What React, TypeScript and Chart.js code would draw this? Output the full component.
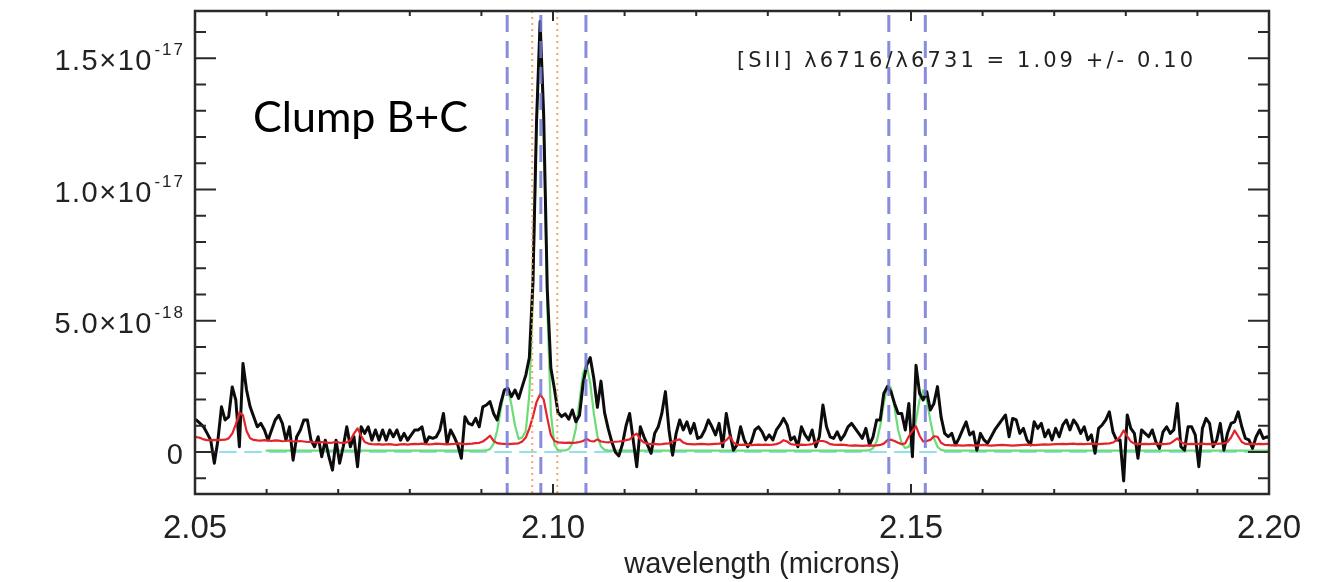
import React, { useEffect, useRef } from 'react';
import { Chart, registerables } from 'chart.js';

Chart.register(...registerables);

// Flux values are in units of 1e-18; wavelength in microns.
const WAVE_START = 2.0497;
const WAVE_STEP = 0.0005;

const SPECTRUM_FLUX = [
  1.20, 1.22, 1.09, 0.96, 0.71, 0.45, -0.43, 0.45, 1.72, 1.22,
  1.34, 2.48, 1.98, 0.20, 3.37, 2.36, 1.72, 1.34, 0.96, 1.09,
  0.84, 0.45, 0.84, 1.22, 1.40, 1.09, 0.45, 0.96, -0.31, 0.58,
  0.83, 1.22, 1.22, 0.45, 0.20, 0.58, -0.18, 0.45, -0.18, -0.69,
  0.45, -0.43, 0.20, 0.96, 0.20, 0.58, -0.56, 0.96, 0.71, 0.96,
  0.45, 0.84, 0.45, 0.84, 0.45, 0.84, 0.58, 0.84, 0.45, 0.71,
  0.45, 0.65, 0.84, 0.84, 0.96, 0.33, 0.58, 0.52, 0.58, 0.84,
  1.47, 0.33, 0.84, 0.58, 0.27, -0.24, 1.34, 1.09, 1.03, 1.28,
  0.96, 1.72, 1.79, 1.92, 1.47, 1.22, 1.85, 2.36, 2.42, 2.11,
  2.36, 2.04, 2.49, 2.93, 3.60, 6.50, 12.60, 16.40, 12.80, 6.20,
  3.20, 2.40, 1.50, 1.35, 1.45, 1.25, 1.60, 1.15, 1.40, 2.60,
  3.30, 3.60, 2.80, 1.70, 2.70, 1.50, 0.90, 0.40, 0.00, -0.15,
  0.30, 1.00, 1.47, 0.46, -0.56, 0.96, 0.58, 0.27, -0.05, 0.71,
  0.96, 1.47, 2.30, 0.84, -0.12, 0.71, 1.22, 0.84, 1.15, 0.71,
  1.09, 0.52, 0.58, 0.84, 1.22, 0.96, 0.65, 1.09, 0.20, 1.47,
  0.71, 0.07, 0.27, 0.96, 0.46, 0.20, 0.39, 0.84, 0.96, 0.77,
  0.46, 0.65, 0.46, 0.84, 1.03, 1.28, 1.03, 0.46, 0.58, 0.20,
  0.96, 0.65, 0.46, 0.84, 0.20, 0.58, 1.79, 0.96, 0.58, 0.52,
  0.77, 0.46, 0.65, 0.96, 1.09, 0.90, 0.71, 0.52, 0.90, 0.27,
  0.58, 1.22, 1.22, 2.23, 2.49, 2.30, 1.85, 1.47, 1.47, 0.84,
  1.85, -0.18, 3.30, 2.23, 1.98, 2.30, 1.60, 1.85, 2.49, 1.34,
  0.71, 0.58, 0.71, 0.27, 0.52, 0.84, 1.15, 0.65, 0.77, 0.07,
  0.71, 0.46, 0.33, 0.58, 0.84, 1.03, 1.22, 1.41, 0.58, 1.28,
  1.22, 0.71, 0.90, 0.46, 0.27, 1.15, 0.90, 1.09, 0.58, 0.84,
  0.46, 0.90, 0.58, 1.03, 1.22, 0.84, 1.22, 1.03, 0.71, 0.96,
  0.46, 0.65, -0.05, 0.90, 1.03, 1.22, 1.53, 0.77, 0.46, 0.46,
  -1.10, 1.41, 0.90, 0.71, -0.24, 0.84, 0.71, 0.58, 0.84, 0.39,
  0.14, 0.77, 0.96, 0.71, 0.84, 1.85, 0.20, 0.07, 0.96, 0.96,
  0.65, -0.56, 0.90, 1.28, 1.09, 0.20, 0.46, 1.09, 0.07, 0.71,
  1.09, 1.15, 1.53, 0.96, 0.52, 0.46, 0.14, 0.58, 0.84, 0.52,
  0.58, 0.50,
];

const NOISE_FLUX = [
  0.58, 0.57, 0.54, 0.48, 0.45, 0.44, 0.46, 0.45, 0.46, 0.47,
  0.52, 0.70, 1.05, 1.50, 1.40, 0.80, 0.52, 0.46, 0.44, 0.43,
  0.45, 0.44, 0.42, 0.44, 0.43, 0.41, 0.42, 0.44, 0.40, 0.41,
  0.42, 0.40, 0.38, 0.39, 0.37, 0.36, 0.38, 0.37, 0.35, 0.36,
  0.38, 0.36, 0.35, 0.37, 0.45, 0.70, 0.90, 0.62, 0.38, 0.32,
  0.30, 0.29, 0.30, 0.28, 0.29, 0.30, 0.28, 0.27, 0.29, 0.30,
  0.28, 0.30, 0.31, 0.30, 0.32, 0.30, 0.29, 0.30, 0.32, 0.31,
  0.30, 0.29, 0.30, 0.31, 0.33, 0.32, 0.30, 0.31, 0.32, 0.34,
  0.35, 0.40, 0.50, 0.62, 0.42, 0.34, 0.32, 0.31, 0.30, 0.31,
  0.32, 0.33, 0.40, 0.55, 0.90, 1.35, 1.90, 2.20, 2.00, 1.30,
  0.65, 0.42, 0.37, 0.36, 0.35, 0.36, 0.35, 0.36, 0.38, 0.42,
  0.50, 0.42, 0.40, 0.48, 0.40, 0.38, 0.37, 0.38, 0.39, 0.40,
  0.42, 0.45, 0.48, 0.62, 0.70, 0.48, 0.36, 0.32, 0.30, 0.31,
  0.29, 0.30, 0.32, 0.33, 0.40, 0.45, 0.48, 0.36, 0.31, 0.30,
  0.29, 0.30, 0.31, 0.30, 0.29, 0.30, 0.31, 0.32, 0.35, 0.45,
  0.60, 0.36, 0.28, 0.27, 0.28, 0.27, 0.26, 0.27, 0.28, 0.27,
  0.28, 0.27, 0.28, 0.30, 0.35, 0.45, 0.40, 0.30, 0.28, 0.27,
  0.28, 0.27, 0.28, 0.30, 0.38, 0.42, 0.42, 0.38, 0.30, 0.28,
  0.27, 0.28, 0.27, 0.25, 0.24, 0.25, 0.24, 0.23, 0.24, 0.25,
  0.24, 0.25, 0.27, 0.32, 0.45, 0.47, 0.42, 0.35, 0.30, 0.33,
  0.60, 0.80, 0.98, 0.62, 0.40, 0.42, 0.46, 0.60, 0.58, 0.35,
  0.27, 0.26, 0.25, 0.26, 0.25, 0.24, 0.25, 0.26, 0.25, 0.24,
  0.26, 0.27, 0.25, 0.24, 0.25, 0.26, 0.27, 0.26, 0.25, 0.24,
  0.25, 0.26, 0.27, 0.28, 0.27, 0.26, 0.27, 0.28, 0.29, 0.28,
  0.29, 0.30, 0.30, 0.31, 0.30, 0.31, 0.32, 0.30, 0.31, 0.30,
  0.31, 0.32, 0.31, 0.30, 0.31, 0.32, 0.33, 0.36, 0.45, 0.58,
  0.82, 0.60, 0.40, 0.32, 0.31, 0.30, 0.31, 0.30, 0.31, 0.32,
  0.31, 0.30, 0.31, 0.33, 0.42, 0.52, 0.38, 0.31, 0.30, 0.31,
  0.30, 0.31, 0.32, 0.30, 0.31, 0.30, 0.31, 0.32, 0.33, 0.38,
  0.55, 0.82, 0.60, 0.38, 0.31, 0.30, 0.31, 0.30, 0.31, 0.30,
  0.31, 0.30,
];

const MODEL_WAVE = [
  2.0600, 2.0897, 2.0902, 2.0907, 2.0912, 2.0917, 2.0922, 2.0927, 2.0932, 2.0937,
  2.0942, 2.0947, 2.0952, 2.0957, 2.0962, 2.0967, 2.0972, 2.0977, 2.0982, 2.0987,
  2.0992, 2.0997, 2.1002, 2.1007, 2.1012, 2.1017, 2.1022, 2.1027, 2.1032, 2.1037,
  2.1042, 2.1047, 2.1052, 2.1057, 2.1062, 2.1067, 2.1072, 2.1077,
  2.1437, 2.1442, 2.1447, 2.1452, 2.1457, 2.1462, 2.1467, 2.1472, 2.1477, 2.1482,
  2.1487, 2.1492, 2.1497, 2.1502, 2.1507, 2.1512, 2.1517, 2.1522, 2.1527, 2.1532,
  2.1537, 2.1542, 2.1547, 2.2000,
];
const MODEL_FLUX = [
  0.05, 0.05, 0.05, 0.06, 0.11, 0.31, 0.81, 1.62, 2.35, 2.43,
  1.79, 1.00, 0.50, 0.55, 0.80, 2.20, 6.00, 12.45, 16.30, 12.45,
  5.56, 1.48, 0.27, 0.07, 0.05, 0.06, 0.11, 0.32, 0.90, 1.93,
  3.00, 3.33, 2.62, 1.48, 0.61, 0.21, 0.08, 0.05,
  0.05, 0.07, 0.14, 0.40, 0.99, 1.86, 2.53, 2.45, 1.69, 0.84,
  0.33, 0.15, 0.20, 0.53, 1.20, 1.99, 2.35, 1.99, 1.20, 0.53,
  0.20, 0.08, 0.05, 0.05,
];

const CONTINUUM_WAVE = [2.05, 2.2];
const CONTINUUM_FLUX = [0, 0];

const LINE_WAVES_BLUE = [2.0936, 2.0983, 2.1046, 2.1469, 2.1520];
const LINE_WAVES_ORANGE = [2.0971, 2.1006];

const X_MIN = 2.05;
const X_MAX = 2.2;
const Y_MIN = -1.6;
const Y_MAX = 16.8;
const X_MAJOR = [2.05, 2.1, 2.15, 2.2];
const X_LABELS = ['2.05', '2.10', '2.15', '2.20'];
const X_MINOR_STEP = 0.01;
const Y_MAJOR = [0, 5, 10, 15];
const Y_MANTISSA = ['0', '5.0×10', '1.0×10', '1.5×10'];
const Y_EXPONENT = ['', '-18', '-17', '-17'];
const Y_MINOR = [-1, 1, 2, 3, 4, 6, 7, 8, 9, 11, 12, 13, 14, 16];

const X_TITLE = 'wavelength (microns)';
const ANNOTATION = '[SII] λ6716/λ6731 = 1.09 +/- 0.10';
const PANEL_LABEL = 'Clump B+C';

const INK = '#222222';

const toPoints = (xs: number[], ys: number[]) => ys.map((y, i) => ({ x: xs[i], y }));
const gridPoints = (ys: number[]) => ys.map((y, i) => ({ x: WAVE_START + i * WAVE_STEP, y }));

function drawSpaced(ctx: CanvasRenderingContext2D, text: string, x: number, y: number, targetWidth: number) {
  (ctx as any).letterSpacing = '0px';
  const w = ctx.measureText(text).width;
  const n = Array.from(text).length;
  const ls = n > 1 ? (targetWidth - w) / (n - 1) : 0;
  (ctx as any).letterSpacing = `${ls}px`;
  ctx.textAlign = 'left';
  ctx.fillText(text, x, y);
  (ctx as any).letterSpacing = '0px';
}

const decorPlugin = {
  id: 'decor',
  afterDatasetsDraw(chart: any) {
    const { ctx, chartArea } = chart;
    const { left, right, top, bottom } = chartArea;
    const xs = chart.scales.x;
    const ys = chart.scales.y;

    // vertical reference lines
    ctx.save();
    ctx.beginPath();
    ctx.rect(left, top, right - left, bottom - top);
    ctx.clip();
    ctx.strokeStyle = 'rgba(238,160,80,0.9)';
    ctx.lineWidth = 2;
    ctx.setLineDash([2, 4]);
    LINE_WAVES_ORANGE.forEach((w) => {
      const px = xs.getPixelForValue(w);
      ctx.beginPath();
      ctx.moveTo(px, top);
      ctx.lineTo(px, bottom);
      ctx.stroke();
    });
    ctx.strokeStyle = 'rgba(115,120,212,0.85)';
    ctx.lineWidth = 3;
    ctx.setLineDash([17, 9]);
    LINE_WAVES_BLUE.forEach((w) => {
      const px = xs.getPixelForValue(w);
      ctx.beginPath();
      ctx.moveTo(px, top + 4);
      ctx.lineTo(px, bottom);
      ctx.stroke();
    });
    ctx.restore();

    // frame and ticks
    ctx.save();
    ctx.strokeStyle = '#2a2a2a';
    ctx.lineWidth = 2.5;
    ctx.strokeRect(left, top, right - left, bottom - top);
    ctx.lineWidth = 2;
    const hTick = (v: number, len: number) => {
      const py = ys.getPixelForValue(v);
      ctx.beginPath();
      ctx.moveTo(left, py);
      ctx.lineTo(left + len, py);
      ctx.moveTo(right, py);
      ctx.lineTo(right - len, py);
      ctx.stroke();
    };
    Y_MAJOR.forEach((v) => hTick(v, 21));
    Y_MINOR.forEach((v) => hTick(v, 11));
    const nMinor = Math.round((X_MAX - X_MIN) / X_MINOR_STEP);
    for (let k = 0; k <= nMinor; k++) {
      const w = X_MIN + k * X_MINOR_STEP;
      const isMajor = X_MAJOR.some((m) => Math.abs(m - w) < 1e-6);
      const len = isMajor ? 10 : 5;
      const px = xs.getPixelForValue(w);
      ctx.beginPath();
      ctx.moveTo(px, bottom);
      ctx.lineTo(px, bottom - len);
      ctx.moveTo(px, top);
      ctx.lineTo(px, top + len);
      ctx.stroke();
    }
    ctx.restore();

    // tick labels
    ctx.save();
    ctx.fillStyle = INK;
    ctx.textBaseline = 'alphabetic';
    Y_MAJOR.forEach((v, i) => {
      const py = ys.getPixelForValue(v);
      const rightEdge = left - 12;
      let expW = 0;
      if (Y_EXPONENT[i]) {
        ctx.font = '17px "Liberation Sans", Arial, sans-serif';
        (ctx as any).letterSpacing = '2px';
        expW = ctx.measureText(Y_EXPONENT[i]).width;
        ctx.textAlign = 'left';
        ctx.fillText(Y_EXPONENT[i], rightEdge - expW + 2, py - 3);
        (ctx as any).letterSpacing = '0px';
        expW += 1;
      }
      ctx.font = '29px "Liberation Sans", Arial, sans-serif';
      (ctx as any).letterSpacing = '1.5px';
      const mw = ctx.measureText(Y_MANTISSA[i]).width;
      ctx.textAlign = 'left';
      ctx.fillText(Y_MANTISSA[i], rightEdge - expW - mw + 1.5, py + 12);
      (ctx as any).letterSpacing = '0px';
    });
    ctx.font = '33px "Liberation Sans", Arial, sans-serif';
    ctx.textAlign = 'center';
    X_MAJOR.forEach((w, i) => {
      ctx.fillText(X_LABELS[i], xs.getPixelForValue(w), bottom + 44);
    });
    ctx.font = '29px "Liberation Sans", Arial, sans-serif';
    ctx.textAlign = 'center';
    ctx.fillText(X_TITLE, (left + right) / 2 + 30, bottom + 79);

    // annotations
    ctx.font = '21px "DejaVu Sans", "Liberation Sans", sans-serif';
    drawSpaced(ctx, ANNOTATION, 737, 67, 456);
    ctx.font = '44px Lato, "Open Sans", sans-serif';
    const cw = ctx.measureText(PANEL_LABEL).width;
    const size = 44 * (215 / cw);
    ctx.font = `${size}px Lato, "Open Sans", sans-serif`;
    ctx.fillStyle = '#000000';
    ctx.textAlign = 'left';
    ctx.fillText(PANEL_LABEL, 253, 132);
    ctx.restore();
  },
};

export default function App() {
  const canvasRef = useRef<HTMLCanvasElement>(null);

  useEffect(() => {
    const canvas = canvasRef.current;
    if (!canvas) return;
    const chart = new Chart(canvas, {
      type: 'line',
      data: {
        datasets: [
          {
            label: 'noise',
            data: gridPoints(NOISE_FLUX),
            borderColor: '#e3232a',
            borderWidth: 2.2,
            pointRadius: 0,
            tension: 0,
            order: 0,
            clip: 0,
          },
          {
            label: 'spectrum',
            data: gridPoints(SPECTRUM_FLUX),
            borderColor: '#0c0c0c',
            borderWidth: 3,
            pointRadius: 0,
            tension: 0,
            order: 1,
            clip: 0,
          },
          {
            label: 'model',
            data: toPoints(MODEL_WAVE, MODEL_FLUX),
            borderColor: '#6cdb78',
            borderWidth: 2.2,
            pointRadius: 0,
            tension: 0,
            order: 2,
            clip: 0,
          },
          {
            label: 'continuum',
            data: toPoints(CONTINUUM_WAVE, CONTINUUM_FLUX),
            borderColor: '#8fe2ec',
            borderWidth: 2.2,
            borderDash: [16, 9],
            pointRadius: 0,
            order: 3,
            clip: 0,
          },
        ] as any,
      },
      options: {
        animation: false,
        responsive: false,
        devicePixelRatio: 1,
        layout: { padding: { left: 195, top: 11, right: 51, bottom: 88 } },
        elements: { line: { borderJoinStyle: 'round', borderCapStyle: 'round' } },
        scales: {
          x: { type: 'linear', min: X_MIN, max: X_MAX, display: false },
          y: { type: 'linear', min: Y_MIN, max: Y_MAX, display: false },
        },
        plugins: { legend: { display: false }, tooltip: { enabled: false } },
      } as any,
      plugins: [decorPlugin],
    });
    return () => chart.destroy();
  }, []);

  return (
    <div style={{ position: 'fixed', left: 0, top: 0, width: 1320, height: 582, background: '#ffffff' }}>
      <canvas ref={canvasRef} width={1320} height={582} style={{ display: 'block', width: 1320, height: 582 }} />
    </div>
  );
}
